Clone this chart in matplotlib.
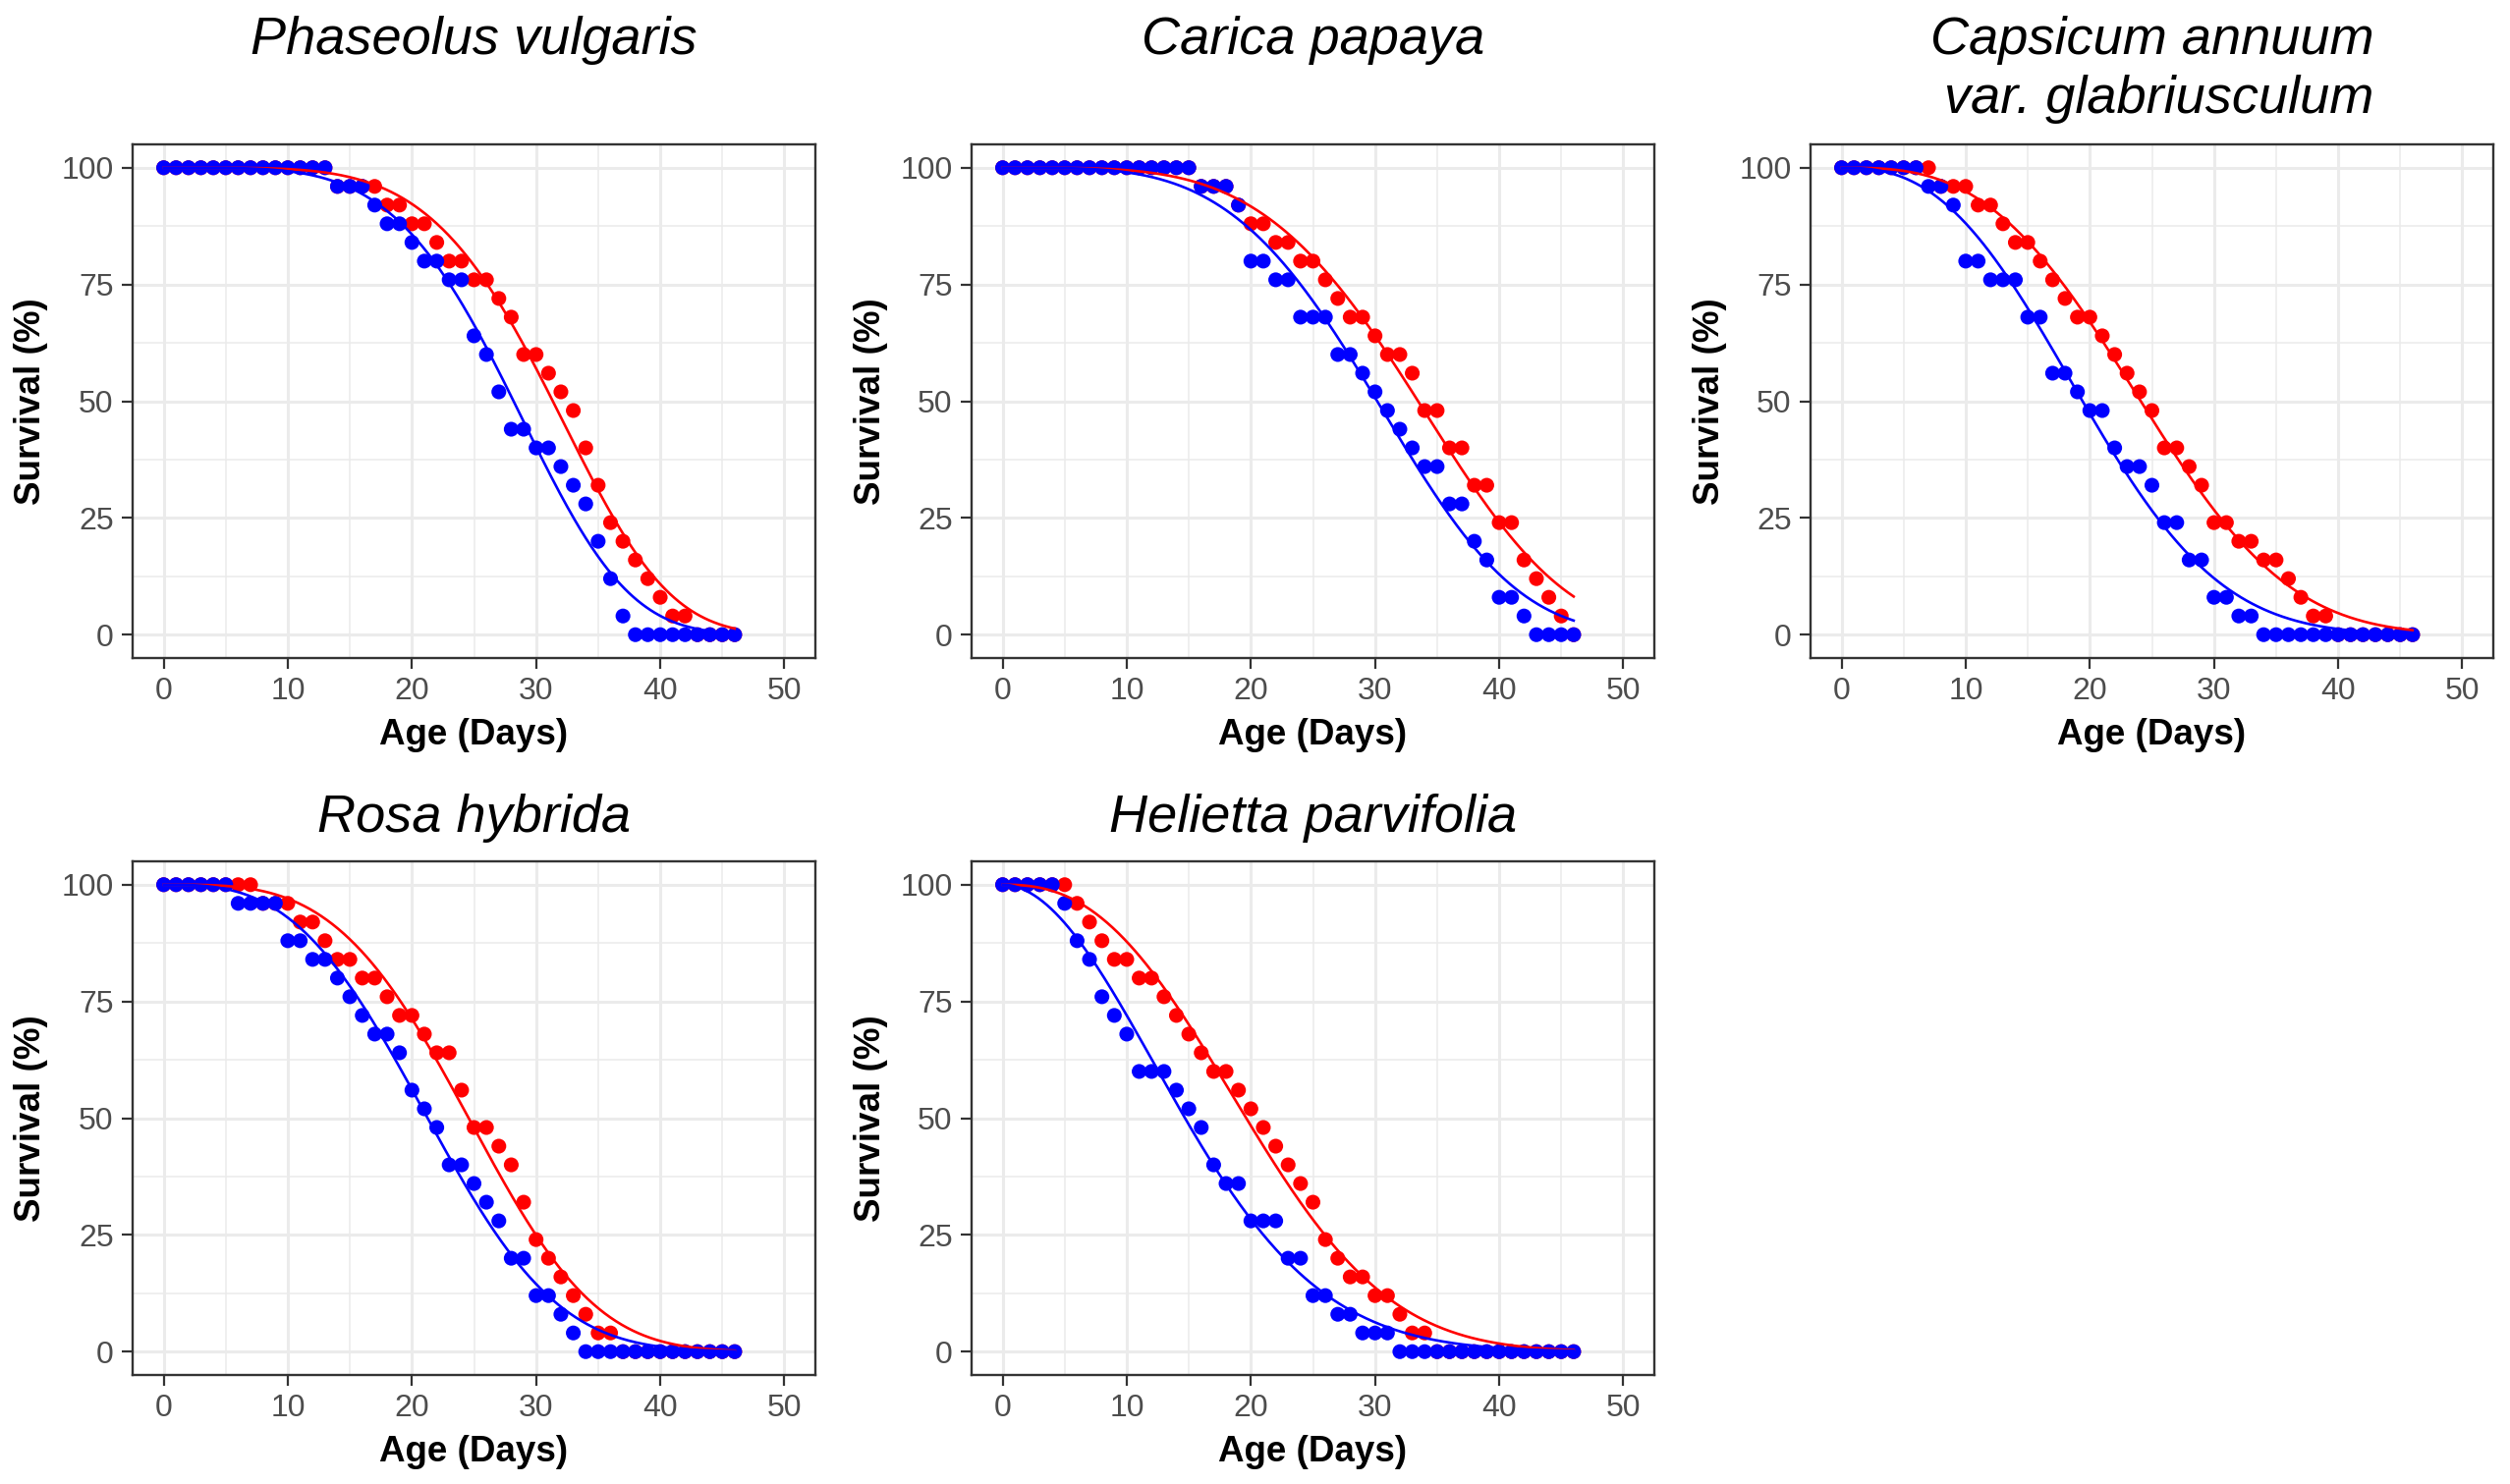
import numpy as np
import matplotlib
matplotlib.use("Agg")
import matplotlib.pyplot as plt
from matplotlib.ticker import MultipleLocator

plt.rcParams['font.family'] = ['Liberation Sans', 'DejaVu Sans']

# ---------------- data ----------------
days = list(range(0, 47))

titles = ["Phaseolus vulgaris", "Carica papaya",
          "Capsicum annuum\n var. glabriusculum",
          "Rosa hybrida", "Helietta parvifolia"]

phaseolus_blue = [100, 100, 100, 100, 100, 100, 100, 100, 100, 100, 100, 100, 100, 100,
                  96, 96, 96, 92, 88, 88, 84, 80, 80, 76, 76, 64, 60, 52, 44, 44,
                  40, 40, 36, 32, 28, 20, 12, 4, 0, 0, 0, 0, 0, 0, 0, 0, 0]
phaseolus_red = [100, 100, 100, 100, 100, 100, 100, 100, 100, 100, 100, 100, 100, 100,
                 96, 96, 96, 96, 92, 92, 88, 88, 84, 80, 80, 76, 76, 72, 68, 60,
                 60, 56, 52, 48, 40, 32, 24, 20, 16, 12, 8, 4, 4, 0, 0, 0, 0]

carica_blue = [100, 100, 100, 100, 100, 100, 100, 100, 100, 100, 100, 100, 100, 100, 100, 100,
               96, 96, 96, 92, 80, 80, 76, 76, 68, 68, 68, 60, 60, 56, 52, 48, 44, 40,
               36, 36, 28, 28, 20, 16, 8, 8, 4, 0, 0, 0, 0]
carica_red = [100, 100, 100, 100, 100, 100, 100, 100, 100, 100, 100, 100, 100, 100, 100, 100,
              96, 96, 96, 92, 88, 88, 84, 84, 80, 80, 76, 72, 68, 68, 64, 60, 60, 56,
              48, 48, 40, 40, 32, 32, 24, 24, 16, 12, 8, 4, 0]

capsicum_blue = [100, 100, 100, 100, 100, 100, 100, 96, 96, 92, 80, 80, 76, 76, 76,
                 68, 68, 56, 56, 52, 48, 48, 40, 36, 36, 32, 24, 24, 16, 16, 8, 8,
                 4, 4, 0, 0, 0, 0, 0, 0, 0, 0, 0, 0, 0, 0, 0]
capsicum_red = [100, 100, 100, 100, 100, 100, 100, 100, 96, 96, 96, 92, 92, 88, 84, 84,
                80, 76, 72, 68, 68, 64, 60, 56, 52, 48, 40, 40, 36, 32, 24, 24, 20, 20,
                16, 16, 12, 8, 4, 4, 0, 0, 0, 0, 0, 0, 0]

rosa_blue = [100, 100, 100, 100, 100, 100, 96, 96, 96, 96, 88, 88, 84, 84, 80, 76, 72,
             68, 68, 64, 56, 52, 48, 40, 40, 36, 32, 28, 20, 20, 12, 12, 8, 4,
             0, 0, 0, 0, 0, 0, 0, 0, 0, 0, 0, 0, 0]
rosa_red = [100, 100, 100, 100, 100, 100, 100, 100, 96, 96, 96, 92, 92, 88, 84, 84, 80,
            80, 76, 72, 72, 68, 64, 64, 56, 48, 48, 44, 40, 32, 24, 20, 16, 12, 8,
            4, 4, 0, 0, 0, 0, 0, 0, 0, 0, 0, 0]

helietta_blue = [100, 100, 100, 100, 100, 96, 88, 84, 76, 72, 68, 60, 60, 60, 56, 52, 48,
                 40, 36, 36, 28, 28, 28, 20, 20, 12, 12, 8, 8, 4, 4, 4,
                 0, 0, 0, 0, 0, 0, 0, 0, 0, 0, 0, 0, 0, 0, 0]
helietta_red = [100, 100, 100, 100, 100, 100, 96, 92, 88, 84, 84, 80, 80, 76, 72, 68, 64,
                60, 60, 56, 52, 48, 44, 40, 36, 32, 24, 20, 16, 16, 12, 12, 8, 4, 4,
                0, 0, 0, 0, 0, 0, 0, 0, 0, 0, 0, 0]

blue_series = [phaseolus_blue, carica_blue, capsicum_blue, rosa_blue, helietta_blue]
red_series = [phaseolus_red, carica_red, capsicum_red, rosa_red, helietta_red]

x_ticks = [0, 10, 20, 30, 40, 50]
y_ticks = [0, 25, 50, 75, 100]

BLUE = "#0000FF"
RED = "#FF0000"


def fit_weibull(t, s):
    """Least-squares fit of S(t) = 100*exp(-(t/b)^c) to the observed points."""
    t = np.asarray(t, float)
    s = np.asarray(s, float)
    bs = np.linspace(5, 80, 1501)
    best = (np.inf, 30.0, 3.0)
    for c in np.linspace(0.5, 12, 576):
        pred = 100.0 * np.exp(-(t[None, :] / bs[:, None]) ** c)
        sse = ((pred - s[None, :]) ** 2).sum(axis=1)
        i = int(sse.argmin())
        if sse[i] < best[0]:
            best = (sse[i], bs[i], c)
    return best[1], best[2]


# ---------------- layout ----------------
W, H = 2555, 1511
fig = plt.figure(figsize=(W / 100, H / 100), dpi=100)

ax_w, ax_h = 695, 523
lefts = [135, 989, 1843]
tops = [147, 877]
positions = [(lefts[0], tops[0]), (lefts[1], tops[0]), (lefts[2], tops[0]),
             (lefts[0], tops[1]), (lefts[1], tops[1])]

GRID = "#EBEBEB"
FRAME = "#333333"
TICKLAB = "#4D4D4D"

for k, (lx, ty) in enumerate(positions):
    ax = fig.add_axes([lx / W, 1 - (ty + ax_h) / H, ax_w / W, ax_h / H])
    ax.set_xlim(-2.5, 52.5)
    ax.set_ylim(-5, 105)
    ax.xaxis.set_major_locator(MultipleLocator(10))
    ax.xaxis.set_minor_locator(MultipleLocator(5))
    ax.yaxis.set_major_locator(MultipleLocator(25))
    ax.yaxis.set_minor_locator(MultipleLocator(12.5))
    ax.set_xticks(x_ticks)
    ax.set_yticks(y_ticks)
    ax.grid(which='major', color=GRID, linewidth=2.2, zorder=0)
    ax.grid(which='minor', color=GRID, linewidth=1.1, zorder=0)
    ax.set_axisbelow(True)
    for sp in ax.spines.values():
        sp.set_color(FRAME)
        sp.set_linewidth(1.7)
        sp.set_zorder(5)
    ax.tick_params(which='major', length=7.9, width=1.6, color=FRAME,
                   labelsize=23, labelcolor=TICKLAB, pad=6)
    ax.tick_params(which='minor', length=0)

    t = np.asarray(days, float)
    red = np.asarray(red_series[k], float)
    blue = np.asarray(blue_series[k], float)

    ax.scatter(t, red, s=118, color=RED, edgecolors='none', zorder=3)
    ax.scatter(t, blue, s=118, color=BLUE, edgecolors='none', zorder=3)

    tt = np.linspace(t.min(), t.max(), 400)
    for obs, col in ((red, RED), (blue, BLUE)):
        b, c = fit_weibull(t, obs)
        ax.plot(tt, 100.0 * np.exp(-(tt / b) ** c), color=col, lw=1.9, zorder=4)

    cx = (lx + ax_w / 2) / W
    # title
    if k == 2:
        l1, l2 = titles[k].split("\n")
        fig.text(cx, 1 - 55 / H, l1, ha='center', va='baseline',
                 fontsize=39, style='italic')
        fig.text(cx, 1 - 115 / H, l2, ha='center', va='baseline',
                 fontsize=39, style='italic')
    else:
        base = 55 if k < 3 else 847
        fig.text(cx, 1 - base / H, titles[k], ha='center', va='baseline',
                 fontsize=39, style='italic')
    # axis labels
    fig.text(cx, 1 - (ty + 602) / H, "Age (Days)", ha='center', va='center',
             fontsize=26.5, fontweight='bold')
    fig.text((lx - 103) / W, 1 - (ty + ax_h / 2) / H, "Survival (%)",
             ha='center', va='center', rotation=90,
             fontsize=26.5, fontweight='bold')

fig.savefig("out.png", dpi=100, facecolor='white')
